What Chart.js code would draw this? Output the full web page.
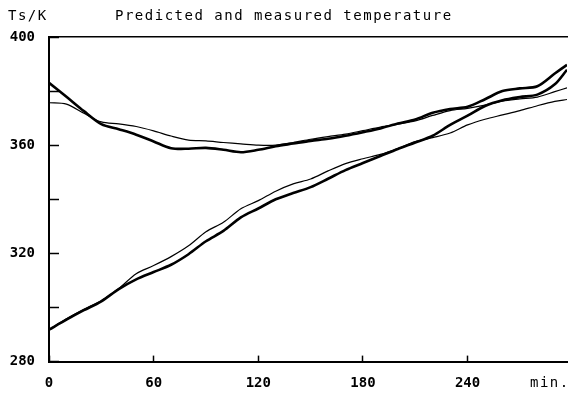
<!DOCTYPE html>
<html>
<head>
<meta charset="utf-8">
<script src="https://cdn.jsdelivr.net/npm/chart.js@4/dist/chart.umd.min.js"></script>
<style>
  html, body { margin: 0; padding: 0; background: #fff; overflow: hidden; }
  canvas { display: block; }
</style>
</head>
<body>
<canvas id="chart" width="569" height="394"></canvas>
<script>
// time in minutes
const minutes = [0, 10, 20, 30, 40, 50, 60, 70, 80, 90, 100, 110, 120, 130, 140, 150,
    160, 170, 180, 190, 200, 210, 220, 230, 240, 250, 260, 270, 280, 290, 297];

// upper pair (starts hot)
const upperMeasured = [383.1, 377.9, 372.6, 367.8, 365.9, 363.9, 361.4, 358.9, 358.7, 359.0, 358.3, 357.4,
    358.3, 359.6, 360.6, 361.6, 362.4, 363.5, 364.8, 366.2, 368.0, 369.5, 372.0, 373.4, 374.2, 377.0,
    380.0, 381.0, 381.8, 386.5, 389.7];
const upperPredicted = [375.7, 375.2, 371.8, 368.6, 367.9, 366.9, 365.3, 363.4, 361.9, 361.6, 361.0, 360.5,
    360.0, 360.0, 361.0, 362.2, 363.2, 364.1, 365.4, 366.7, 367.8, 369.0, 371.0, 372.8, 373.6, 374.8,
    376.3, 377.1, 377.8, 379.8, 381.2];

// lower pair (starts cold)
const lowerMeasured = [291.8, 295.5, 299.0, 302.3, 306.8, 310.4, 313.1, 315.8, 319.7, 324.5, 328.3, 333.3,
    336.6, 340.0, 342.3, 344.5, 347.6, 350.8, 353.4, 356.0, 358.6, 361.0, 363.5, 367.5, 370.9, 374.5,
    376.6, 377.8, 378.7, 382.5, 387.9];
const lowerPredicted = [291.8, 295.8, 299.3, 302.5, 307.0, 312.5, 315.5, 318.8, 322.8, 328.0, 331.5, 336.5,
    339.5, 343.0, 345.7, 347.5, 350.5, 353.2, 355.0, 356.6, 358.8, 361.3, 362.8, 364.5, 367.5, 369.6,
    371.2, 372.8, 374.6, 376.2, 376.9];

const xTicks = [0, 60, 120, 180, 240];
const yLabelled = [280, 320, 360, 400];

const FONT = "'DejaVu Sans Mono', monospace";

function toPoints(values) {
    return minutes.map(function (m, i) { return { x: m, y: values[i] }; });
}

function series(values, width) {
    return {
        data: toPoints(values),
        borderColor: '#000',
        borderWidth: width,
        pointRadius: 0,
        tension: 0.3,
        fill: false
    };
}

// title and axis captions, drawn with wide plotter-like spacing
const captions = {
    id: 'captions',
    afterDraw: function (chart) {
        const ctx = chart.ctx;
        ctx.save();
        ctx.fillStyle = '#000';
        ctx.textBaseline = 'middle';
        ctx.letterSpacing = '1.5px';
        ctx.font = '14px ' + FONT;
        ctx.textAlign = 'left';
        ctx.fillText('Predicted and measured temperature', 115, 16);
        ctx.fillText('Ts/K', 8, 16);
        ctx.fillText('min.', 530, 383);
        ctx.restore();
    }
};

new Chart(document.getElementById('chart'), {
    type: 'line',
    data: {
        datasets: [
            series(upperMeasured, 2.6),
            series(upperPredicted, 1.2),
            series(lowerMeasured, 2.6),
            series(lowerPredicted, 1.2)
        ]
    },
    options: {
        responsive: false,
        animation: false,
        layout: { padding: { top: 37, right: 2, left: 0, bottom: 0 } },
        plugins: {
            legend: { display: false },
            tooltip: { enabled: false },
            title: { display: false }
        },
        scales: {
            x: {
                type: 'linear',
                min: 0,
                max: 297,
                afterBuildTicks: function (scale) {
                    scale.ticks = xTicks.map(function (v) { return { value: v }; });
                },
                afterFit: function (scale) { scale.height = 30; },
                border: { display: true, color: '#000', width: 2 },
                grid: { drawOnChartArea: false, drawTicks: true, tickLength: -6, color: '#000', tickWidth: 1.5 },
                ticks: {
                    color: '#000',
                    padding: 19,
                    maxRotation: 0,
                    font: { family: FONT, size: 14, weight: 'bold' }
                }
            },
            xTop: {
                type: 'linear',
                position: 'top',
                min: 0,
                max: 297,
                afterFit: function (scale) { scale.height = 0; },
                border: { display: true, color: '#000', width: 1.5 },
                grid: { display: false },
                ticks: { display: false }
            },
            y: {
                min: 280,
                max: 400,
                afterFit: function (scale) { scale.width = 49; },
                border: { display: true, color: '#000', width: 2 },
                grid: { drawOnChartArea: false, drawTicks: true, tickLength: -10, color: '#000', tickWidth: 1.5 },
                ticks: {
                    stepSize: 20,
                    color: '#000',
                    padding: 24,
                    font: { family: FONT, size: 14, weight: 'bold' },
                    callback: function (v) { return yLabelled.indexOf(v) >= 0 ? String(v) : ''; }
                }
            }
        }
    },
    plugins: [captions]
});
</script>
</body>
</html>
